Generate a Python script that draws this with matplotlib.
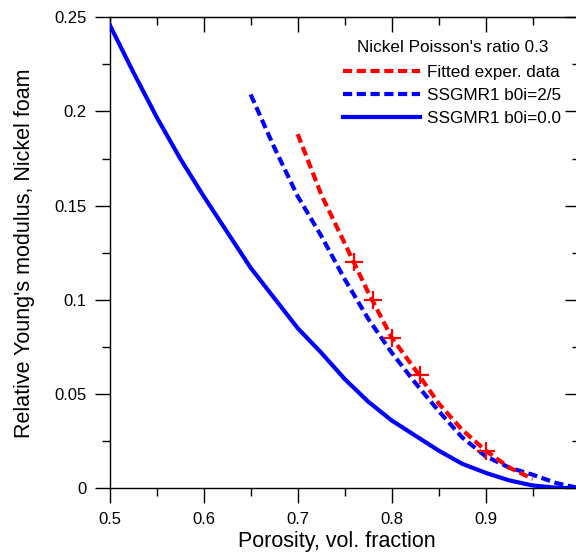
import matplotlib
matplotlib.use("Agg")
import matplotlib.pyplot as plt
from matplotlib.ticker import FixedLocator, FuncFormatter

plt.rcParams['font.family'] = ['Liberation Sans', 'DejaVu Sans']

# Solid blue: SSGMR1 b0i=0.0
p_solid = [0.500, 0.525, 0.550, 0.575, 0.600, 0.625, 0.650, 0.675, 0.700, 0.725, 0.750,
           0.775, 0.800, 0.825, 0.850, 0.875, 0.900, 0.925, 0.950, 0.975, 1.000]
e_solid = [0.246, 0.221, 0.197, 0.175, 0.155, 0.136, 0.117, 0.101, 0.085, 0.072, 0.058,
           0.046, 0.036, 0.028, 0.020, 0.013, 0.0082, 0.0042, 0.0015, 0.0003, 0.0]

# Dashed blue: SSGMR1 b0i=2/5
p_dblue = [0.650, 0.675, 0.700, 0.725, 0.750, 0.775, 0.800, 0.825, 0.850, 0.875,
           0.900, 0.925, 0.950, 0.975, 1.000]
e_dblue = [0.209, 0.181, 0.155, 0.134, 0.111, 0.090, 0.072, 0.056, 0.041, 0.027,
           0.017, 0.011, 0.0072, 0.0028, 0.0]

# Dashed red: fitted experimental data
p_red = [0.700, 0.725, 0.750, 0.775, 0.800, 0.825, 0.850, 0.875, 0.900, 0.925, 0.950]
e_red = [0.188, 0.156, 0.130, 0.104, 0.080, 0.063, 0.045, 0.031, 0.020, 0.011, 0.005]

# Experimental points
p_exp = [0.76, 0.78, 0.80, 0.83, 0.90]
e_exp = [0.12, 0.10, 0.08, 0.06, 0.02]

x_major = [0.5, 0.6, 0.7, 0.8, 0.9]
x_minor = [0.55, 0.65, 0.75, 0.85, 0.95]
y_major = [0, 0.05, 0.1, 0.15, 0.2, 0.25]
y_minor = [0.025, 0.075, 0.125, 0.175, 0.225]

W, H = 576, 557
fig = plt.figure(figsize=(W / 100, H / 100), dpi=100)
left, right, top, bottom = 109.7, 579.7, 17.3, 488.3
aw, ah = right - left, bottom - top
ax = fig.add_axes([left / W, 1 - bottom / H, aw / W, ah / H])

blue = '#0000FF'
red = '#FF0000'
dash = (0, (2.2, 1.1))
ax.plot(p_red, e_red, color=red, lw=3, linestyle=dash, label='Fitted exper. data', zorder=4)
ax.plot(p_dblue, e_dblue, color=blue, lw=3, linestyle=dash, label='SSGMR1 b0i=2/5', zorder=3)
ax.plot(p_solid, e_solid, color=blue, lw=3, label='SSGMR1 b0i=0.0', zorder=3)
ax.plot(p_exp, e_exp, linestyle='none', marker='+', color=red, markersize=13, mew=1.6, zorder=5)

ax.set_xlim(0.5, 1.0)
ax.set_ylim(0, 0.25)
for s in ax.spines.values():
    s.set_linewidth(1.0)

fmt = FuncFormatter(lambda v, pos: '%g' % round(v, 3))
ax.xaxis.set_major_locator(FixedLocator(x_major))
ax.xaxis.set_minor_locator(FixedLocator(x_minor))
ax.yaxis.set_major_locator(FixedLocator(y_major))
ax.yaxis.set_minor_locator(FixedLocator(y_minor))
ax.xaxis.set_major_formatter(fmt)
ax.yaxis.set_major_formatter(fmt)
ax.tick_params(which='major', direction='out', length=10.8, width=1, labelsize=12, pad=6)
ax.tick_params(which='minor', direction='out', length=5.8, width=1)
ax.tick_params(axis='y', which='major', pad=6)
ax.tick_params(top=False, right=False)

# inward ticks on top and right
sx = ax.secondary_xaxis('top')
sx.xaxis.set_major_locator(FixedLocator(x_major + [1.0]))
sx.xaxis.set_minor_locator(FixedLocator(x_minor))
sx.tick_params(which='major', direction='in', length=10.8, width=1, labeltop=False)
sx.tick_params(which='minor', direction='in', length=5.8, width=1)
sx.set_xticklabels([])
sy = ax.secondary_yaxis('right')
sy.yaxis.set_major_locator(FixedLocator(y_major))
sy.yaxis.set_minor_locator(FixedLocator(y_minor))
sy.tick_params(which='major', direction='in', length=10.8, width=1, labelright=False)
sy.tick_params(which='minor', direction='in', length=5.8, width=1)
sy.set_yticklabels([])

ax.set_xlabel('Porosity, vol. fraction', fontsize=15.5)
ax.set_ylabel("Relative Young's modulus, Nickel foam", fontsize=15.5)
ax.xaxis.set_label_coords((336.7 - left) / aw, -(531 - bottom) / ah)
ax.yaxis.set_label_coords(-(left - 35) / aw, 0.5)

leg = ax.legend(title="Nickel Poisson's ratio 0.3", loc='upper right',
                bbox_to_anchor=((568 - left) / aw, 1 - (33 - top) / ah),
                frameon=False, fontsize=12.3, title_fontsize=12.3,
                handlelength=4.5, handletextpad=0.4, labelspacing=0.47, borderaxespad=0)
leg._legend_box.sep = 7

fig.savefig('out.png', dpi=100)
